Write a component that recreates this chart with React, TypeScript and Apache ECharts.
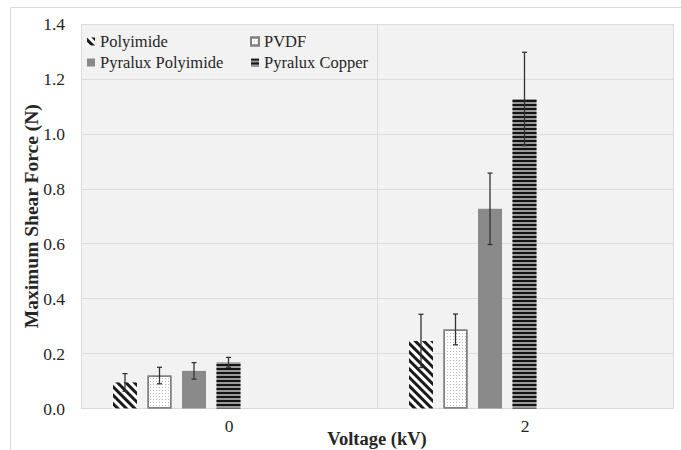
import React, { useEffect, useRef } from "react";
import * as echarts from "echarts";

// ---- data ----
const categories = ["0", "2"];
const seriesNames = ["Polyimide", "PVDF", "Pyralux Polyimide", "Pyralux Copper"];
const polyimide = [0.095, 0.246];
const pvdf = [0.12, 0.288];
const pyraluxPolyimide = [0.137, 0.727];
const pyraluxCopper = [0.168, 1.127];
const polyimideErr = [0.032, 0.097];
const pvdfErr = [0.03, 0.056];
const pyraluxPolyimideErr = [0.03, 0.13];
const pyraluxCopperErr = [0.018, 0.17];
const yMin = 0;
const yMax = 1.4;
const yStep = 0.2;

const values = [polyimide, pvdf, pyraluxPolyimide, pyraluxCopper];
const errors = [polyimideErr, pvdfErr, pyraluxPolyimideErr, pyraluxCopperErr];

// ---- layout / style constants ----
const BAR_W = 24;
const GAP = 10.5;
const PAD_W = 94; // invisible trailing slot, shifts the group left like the original
const FONT = "'Liberation Serif', 'Times New Roman', 'DejaVu Serif', serif";
const TEXT = "#262626";

export default function App() {
  const ref = useRef<HTMLDivElement>(null);

  useEffect(() => {
    if (!ref.current) return;
    const chart = echarts.init(ref.current, null, { renderer: "svg" });

    const styles: any[] = [
      {
        color: "#ffffff",
        decal: {
          symbol: "rect",
          symbolSize: 1,
          color: "#1a1a1a",
          dashArrayX: [1, 0],
          dashArrayY: [2.2, 2.4],
          rotation: Math.PI / 4,
        },
      },
      {
        color: "#ffffff",
        borderColor: "#808080",
        borderWidth: 1.5,
        decal: {
          symbol: "rect",
          symbolSize: 1,
          color: "#b8b8b8",
          dashArrayX: [1, 2],
          dashArrayY: [1, 2],
          rotation: 0,
        },
      },
      { color: "#8a8a8a" },
      {
        color: "#9a9a9a",
        decal: {
          symbol: "rect",
          symbolSize: 1,
          color: "#141414",
          dashArrayX: [1, 0],
          dashArrayY: [2, 2],
          rotation: 0,
        },
      },
    ];

    const barSeries: any[] = seriesNames.map((name, i) => ({
      name,
      type: "bar",
      data: values[i],
      barWidth: BAR_W,
      barGap: (GAP / BAR_W) * 100 + "%",
      itemStyle: styles[i],
    }));

    barSeries.push({
      name: "_pad",
      type: "bar",
      data: categories.map(() => null),
      barWidth: PAD_W,
      barGap: (GAP / BAR_W) * 100 + "%",
      silent: true,
      itemStyle: { color: "transparent" },
    });

    const errData: any[] = [];
    seriesNames.forEach((_, s) => {
      categories.forEach((_, c) => {
        errData.push([c, values[s][c], errors[s][c], s]);
      });
    });

    const errSeries = {
      type: "custom",
      name: "_err",
      silent: true,
      z: 5,
      data: errData,
      encode: { x: 0, y: 1 },
      renderItem: (params: any, api: any) => {
        const c = api.value(0);
        const v = api.value(1);
        const e = api.value(2);
        const s = api.value(3);
        const center = api.coord([c, v])[0];
        const total = seriesNames.length * (BAR_W + GAP) + PAD_W;
        const x = center - total / 2 + s * (BAR_W + GAP) + BAR_W / 2;
        const yTop = api.coord([c, v + e])[1];
        const yBot = api.coord([c, v - e])[1];
        const st = { stroke: "#333333", lineWidth: 1.3 };
        const cap = 2.5;
        return {
          type: "group",
          children: [
            { type: "line", shape: { x1: x, y1: yTop, x2: x, y2: yBot }, style: st },
            { type: "line", shape: { x1: x - cap, y1: yTop, x2: x + cap, y2: yTop }, style: st },
            { type: "line", shape: { x1: x - cap, y1: yBot, x2: x + cap, y2: yBot }, style: st },
          ],
        };
      },
    };

    const legendCommon = {
      orient: "vertical",
      top: 33,
      padding: 0,
      itemWidth: 8,
      itemHeight: 8,
      itemGap: 4,
      icon: "rect",
      selectedMode: false,
      textStyle: { fontFamily: FONT, fontSize: 16.5, color: TEXT },
    };

    chart.setOption({
      animation: false,
      backgroundColor: "#ffffff",
      textStyle: { fontFamily: FONT },
      graphic: [
        {
          type: "rect",
          shape: { x: 10.5, y: 7.5, width: 700, height: 500 },
          style: { fill: "none", stroke: "#d9d9d9", lineWidth: 1 },
          silent: true,
          z: -10,
        },
      ],
      legend: [
        { ...legendCommon, left: 87, data: [seriesNames[0], seriesNames[2]] },
        { ...legendCommon, left: 250, data: [seriesNames[1], seriesNames[3]] },
      ],
      grid: {
        left: 81,
        right: 8,
        top: 24,
        bottom: 41.5,
        show: true,
        backgroundColor: "#f2f2f2",
        borderWidth: 0,
        containLabel: false,
        outerBoundsMode: "none",
      },
      xAxis: {
        type: "category",
        data: categories,
        name: "Voltage (kV)",
        nameLocation: "middle",
        nameGap: 21,
        nameMoveOverlap: false,
        nameTextStyle: { fontFamily: FONT, fontSize: 18.5, fontWeight: "bold", color: TEXT },
        axisLine: { show: true, lineStyle: { color: "#d9d9d9" } },
        axisTick: { show: false },
        axisLabel: { fontFamily: FONT, fontSize: 17.5, color: TEXT, margin: 8 },
        splitLine: { show: true, lineStyle: { color: "#dcdcdc", width: 1 } },
      },
      yAxis: {
        type: "value",
        min: yMin,
        max: yMax,
        interval: yStep,
        name: "Maximum Shear Force (N)",
        nameLocation: "middle",
        nameGap: 40,
        nameMoveOverlap: false,
        nameTextStyle: { fontFamily: FONT, fontSize: 19.5, fontWeight: "bold", color: TEXT },
        axisLine: { show: false },
        axisTick: { show: false },
        axisLabel: {
          fontFamily: FONT,
          fontSize: 17.5,
          color: TEXT,
          margin: 16,
          formatter: (v: number) => v.toFixed(1),
        },
        splitLine: { show: true, lineStyle: { color: "#dcdcdc", width: 1 } },
      },
      series: [...barSeries, errSeries],
    });

    return () => chart.dispose();
  }, []);

  return (
    <div
      ref={ref}
      style={{ position: "fixed", left: 0, top: 0, width: 681, height: 450 }}
    />
  );
}
